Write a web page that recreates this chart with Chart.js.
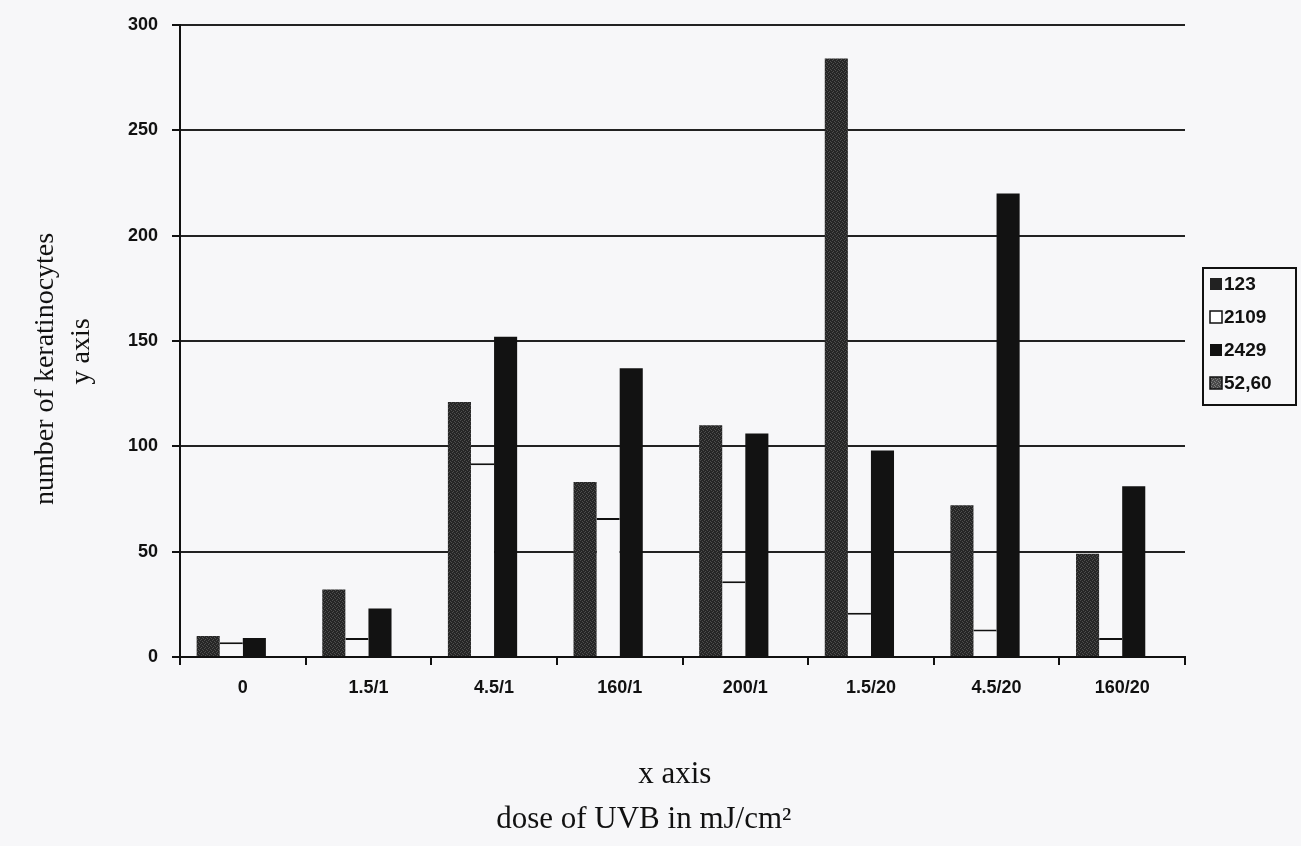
<!DOCTYPE html>
<html>
<head>
<meta charset="utf-8">
<script src="https://cdn.jsdelivr.net/npm/chart.js@4.4.1/dist/chart.umd.min.js"></script>
<style>
  html, body { margin: 0; background: #f7f7f9; }
  #wrap { width: 1301px; height: 846px; position: relative; }
</style>
</head>
<body>
<div id="wrap"><canvas id="c"></canvas></div>
<script>
// data
const doses = ['0', '1.5/1', '4.5/1', '160/1', '200/1', '1.5/20', '4.5/20', '160/20'];
const seriesNames = ['123', '2109', '2429', '52,60'];
const s123 = [10, 32, 121, 83, 110, 284, 72, 49];
const s2109 = [7, 9, 92, 66, 36, 21, 13, 9];
const s2429 = [9, 23, 152, 137, 106, 98, 220, 81];
const s5260 = [0, 0, 0, 0, 0, 0, 0, 0];
const yTicks = [0, 50, 100, 150, 200, 250, 300];

const ink = '#111';
const canvas = document.getElementById('c');
const ctx = canvas.getContext('2d');

// speckled dark grey, like the scanned hatch fill
function speckle(base, dot) {
  const p = document.createElement('canvas');
  p.width = 4; p.height = 4;
  const g = p.getContext('2d');
  g.fillStyle = base; g.fillRect(0, 0, 4, 4);
  g.fillStyle = dot;
  g.fillRect(0, 0, 1, 1); g.fillRect(2, 1, 1, 1);
  g.fillRect(1, 3, 1, 1); g.fillRect(3, 2, 1, 1);
  return ctx.createPattern(p, 'repeat');
}
const greyFill = speckle('#262626', '#4e4e4e');
const legendFill = ['#222', '#fff', '#111', speckle('#4a4a4a', '#808080')];
const legendEdge = [false, true, false, true];

// legend with a frame, drawn on the canvas
const boxLegend = {
  id: 'boxLegend',
  afterDraw(chart) {
    const c = chart.ctx;
    const x = 1203, y = 268, w = 93, h = 137;
    c.save();
    c.strokeStyle = ink; c.lineWidth = 2;
    c.strokeRect(x, y, w, h);
    c.font = 'bold 19px "Liberation Sans", Arial, sans-serif';
    c.textBaseline = 'middle';
    chart.data.datasets.forEach((ds, i) => {
      const cy = y + 16 + i * 33;
      c.fillStyle = legendFill[i];
      c.fillRect(x + 7, cy - 6, 12, 12);
      if (legendEdge[i]) { c.lineWidth = 1.5; c.strokeRect(x + 7, cy - 6, 12, 12); }
      c.fillStyle = ink;
      c.fillText(ds.label, x + 21, cy + 1);
    });
    c.restore();
  }
};

new Chart(ctx, {
  type: 'bar',
  data: {
    labels: doses,
    datasets: [
      { label: seriesNames[0], data: s123, backgroundColor: greyFill, borderWidth: 0 },
      { label: seriesNames[1], data: s2109, backgroundColor: '#f7f7f9', borderColor: ink,
        borderWidth: { top: 2, left: 0, right: 0, bottom: 0 }, borderSkipped: false },
      { label: seriesNames[2], data: s2429, backgroundColor: '#121212', borderWidth: 0 },
      { label: seriesNames[3], data: s5260, backgroundColor: legendFill[3], borderWidth: 0 }
    ]
  },
  options: {
    responsive: true, maintainAspectRatio: false, animation: false,
    layout: { padding: { top: 22, right: 116, left: 0, bottom: 0 } },
    datasets: { bar: { categoryPercentage: 0.735, barPercentage: 1 } },
    plugins: { legend: { display: false }, tooltip: { enabled: false } },
    scales: {
      x: {
        afterFit: (s) => { s.height = 189; },
        grid: { display: true, drawOnChartArea: false, drawTicks: true, tickLength: 8, offset: true,
                color: ink, lineWidth: 2 },
        border: { display: true, color: ink, width: 2 },
        ticks: { color: ink, padding: 12, maxRotation: 0,
                 font: { family: '"Liberation Sans", Arial, sans-serif', size: 18, weight: 'bold' } },
        title: {
          display: true,
          // trailing spaces nudge the centred lines left, as in the scan
          text: ['x axis  ', 'dose of UVB in mJ/cm²          '], color: ink,
          padding: { top: 0, bottom: 4 },
          font: { family: '"Liberation Serif", "Times New Roman", serif', size: 31, lineHeight: 1.45 }
        }
      },
      y: {
        min: yTicks[0], max: yTicks[yTicks.length - 1],
        afterFit: (s) => { s.width = 180; },
        afterBuildTicks: (s) => { s.ticks = yTicks.map(v => ({ value: v })); },
        grid: { color: '#222', lineWidth: 2, tickLength: 8, tickColor: ink },
        border: { display: true, color: ink, width: 2 },
        ticks: { color: ink, padding: 14,
                 font: { family: '"Liberation Sans", Arial, sans-serif', size: 18, weight: 'bold' } },
        title: {
          display: true,
          // trailing spaces push the rotated lines a bit lower
          text: ['number of keratinocytes        ', 'y axis   '], color: ink,
          padding: { top: 27, bottom: 0 },
          font: { family: '"Liberation Serif", "Times New Roman", serif', size: 28, lineHeight: 1.3 }
        }
      }
    }
  },
  plugins: [boxLegend]
});
</script>
</body>
</html>
